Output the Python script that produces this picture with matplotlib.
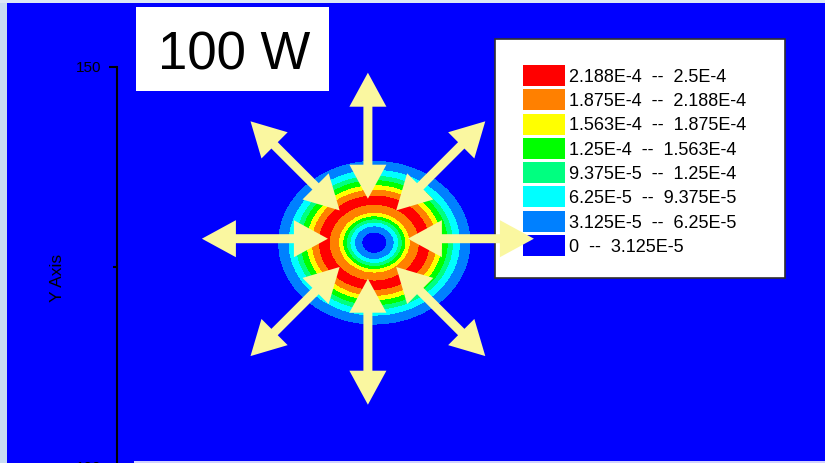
import numpy as np
import matplotlib
matplotlib.use("Agg")
import matplotlib.pyplot as plt
from matplotlib.patches import Rectangle, Polygon

plt.rcParams['font.family'] = ['Liberation Sans', 'DejaVu Sans']

# Contour levels, fill colours and legend entries (lowest band first)
levels = [0, 3.125e-5, 6.25e-5, 9.375e-5, 1.25e-4, 1.5625e-4, 1.875e-4, 2.1875e-4, 2.5e-4]
band_colors = ['#0000FF', '#0080FF', '#00FFFF', '#00FF80',
               '#00FF00', '#FFFF00', '#FF8000', '#FF0000']
legend_labels = ['0  --  3.125E-5', '3.125E-5  --  6.25E-5', '6.25E-5  --  9.375E-5',
                 '9.375E-5  --  1.25E-4', '1.25E-4  --  1.563E-4', '1.563E-4  --  1.875E-4',
                 '1.875E-4  --  2.188E-4', '2.188E-4  --  2.5E-4']

# Radial profile of the ring-shaped distribution (distance from centre in axis units)
profile_r = [0, 1.63, 2.50, 3.06, 3.50, 3.94, 4.44, 5.63, 6.25, 6.88,
             7.75, 8.38, 9.13, 9.75, 10.63, 11.94, 13.75, 80]
profile_v = [1.2e-5, 3.125e-5, 6.25e-5, 9.375e-5, 1.25e-4, 1.5625e-4, 1.875e-4, 2.1875e-4,
             2.32e-4, 2.1875e-4, 1.875e-4, 1.5625e-4, 1.25e-4, 9.375e-5, 6.25e-5,
             3.125e-5, 0, 0]
ring_center = (132.2, 128.0)
ring_squash = 0.85          # vertical / horizontal radius ratio

# Heat-flow arrows: directions (deg) and inner/outer tip radii
arrow_angles = [0, 45, 90, 135, 180, 225, 270, 315]
arrow_center = (131.4, 128.5)
arrow_r_in = 5.0
arrow_r_out = 20.75

title_text = '100 W'
y_ticks = [100, 150]
y_minor = [125]

# ---------------------------------------------------------------- layout
W, H = 825, 463
PX = 8.0                         # pixels per axis unit (both directions)
X0_PX, Y150_PX = 116.7, 66.7     # pixel position of the y axis line / the 150 tick


def dx(p):
    return 100 + (p - X0_PX) / PX


def dy(p):
    return 150 - (p - Y150_PX) / PX


def fx(p):
    return p / W


def fy(p):
    return 1 - p / H


fig = plt.figure(figsize=(W / 100, H / 100), dpi=100, facecolor='#C8DCF2')
left, top, extra = 7, 3, 20
ax = fig.add_axes([left / W, -extra / H, (W - left) / W, (H - top + extra) / H])
ax.set_facecolor('#0000FF')
ax.set_xlim(dx(left), dx(W))
ax.set_ylim(dy(H + extra), dy(top))

# ---------------------------------------------------------------- contour
xs = np.arange(84, 192, 0.25)
ys = np.arange(95, 162, 0.25)
X, Y = np.meshgrid(xs, ys)
R = np.hypot(X - ring_center[0], (Y - ring_center[1]) / ring_squash)
Z = np.interp(R, profile_r, profile_v)
ax.contourf(X, Y, Z, levels=levels, colors=band_colors, zorder=1)

# ---------------------------------------------------------------- axis
for s in ['top', 'right', 'bottom']:
    ax.spines[s].set_visible(False)
ax.spines['left'].set_position(('data', 100))
ax.spines['left'].set_bounds(dy(H + extra), 150)
ax.spines['left'].set_linewidth(1.5)
ax.spines['left'].set_zorder(2)
ax.set_xticks([])
ax.set_yticks(y_ticks)
ax.set_yticks(y_minor, minor=True)
ax.tick_params(axis='y', which='major', direction='out', length=5.8, width=1.5,
               labelsize=11, pad=5.5, colors='black')
ax.tick_params(axis='y', which='minor', direction='out', length=2.9, width=1.5)
ax.set_ylabel('Y Axis', fontsize=12.5, va='center')
ax.yaxis.set_label_coords(dx(57), dy(278), transform=ax.transData)

# ---------------------------------------------------------------- legend box
ax.add_patch(Rectangle((fx(495), fy(278)), 290 / W, 239 / H, transform=fig.transFigure,
                       facecolor='white', edgecolor='#303030', linewidth=1.2, zorder=4))
row_top, row_step, row_h = 65, 24.3, 21
for i, (lab, col) in enumerate(zip(legend_labels[::-1], band_colors[::-1])):
    yt = row_top + i * row_step
    ax.add_patch(Rectangle((fx(523), fy(yt + row_h)), 42 / W, row_h / H,
                           transform=fig.transFigure, facecolor=col, edgecolor='none',
                           zorder=4.5))
    ax.text(fx(569), fy(yt + row_h / 2 + 6.3), lab, transform=fig.transFigure,
            fontsize=13, va='baseline', ha='left', color='black', zorder=4.6)

# ---------------------------------------------------------------- arrows
# each direction is one double-headed arrow: inner head points at the centre,
# outer head points away from it
arrow_color = '#FAF7A0'
shaft_w, head_w, head_l = 1.125, 4.63, 4.25
r0, r1 = arrow_r_in, arrow_r_out
outline = [(r0, 0), (r0 + head_l, head_w / 2), (r0 + head_l, shaft_w / 2),
           (r1 - head_l, shaft_w / 2), (r1 - head_l, head_w / 2), (r1, 0),
           (r1 - head_l, -head_w / 2), (r1 - head_l, -shaft_w / 2),
           (r0 + head_l, -shaft_w / 2), (r0 + head_l, -head_w / 2)]
outline = np.array(outline)
for a in arrow_angles:
    c, s = np.cos(np.radians(a)), np.sin(np.radians(a))
    px_ = arrow_center[0] + outline[:, 0] * c - outline[:, 1] * s
    py_ = arrow_center[1] + outline[:, 0] * s + outline[:, 1] * c
    ax.add_patch(Polygon(np.column_stack([px_, py_]), closed=True,
                         facecolor=arrow_color, edgecolor='none', zorder=5))

# ---------------------------------------------------------------- title box
ax.add_patch(Rectangle((fx(136), fy(91)), 193 / W, 84 / H, transform=fig.transFigure,
                       facecolor='white', edgecolor='none', zorder=6))
ax.text(fx(234), fy(70), title_text, transform=fig.transFigure, fontsize=38,
        ha='center', va='baseline', color='black', zorder=6.5)

# thin frame strips along the figure edges
ax.add_patch(Rectangle((0, fy(3)), 1, 3 / H, transform=fig.transFigure,
                       facecolor='#DCE8F5', edgecolor='none', zorder=7, clip_on=False))
ax.add_patch(Rectangle((fx(134), 0), 1, 1.6 / H, transform=fig.transFigure,
                       facecolor='#D0D0FF', edgecolor='none', zorder=7, clip_on=False))

fig.savefig('out.png', dpi=100, facecolor=fig.get_facecolor())
